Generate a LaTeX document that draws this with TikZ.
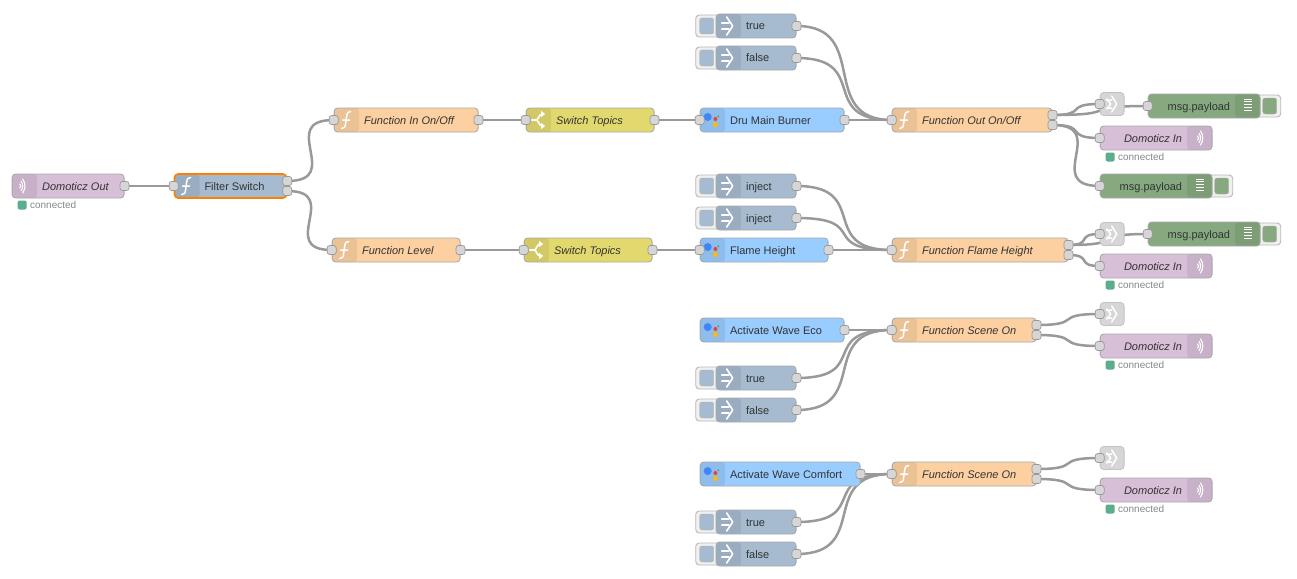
\documentclass[tikz,border=0pt]{standalone}
\usepackage{fontspec}
\setmainfont{Liberation Sans}
\usetikzlibrary{backgrounds,calc}
\definecolor{inject blue}{HTML}{A6BBCF}
\definecolor{func orange}{HTML}{FDD0A2}
\definecolor{switch yellow}{HTML}{E2D96E}
\definecolor{domo purple}{HTML}{D8BFD8}
\definecolor{debug green}{HTML}{87A980}
\definecolor{assist blue}{HTML}{99CCFF}
\definecolor{link gray}{HTML}{D6D6D6}
\definecolor{wire gray}{HTML}{999999}
\definecolor{label dark}{HTML}{333333}
\definecolor{status green}{HTML}{5AAE8C}
\definecolor{assist one}{HTML}{4285F4}
\definecolor{assist two}{HTML}{EA4335}
\definecolor{assist three}{HTML}{FBBC05}
\definecolor{assist four}{HTML}{34A853}
\tikzset{flow/.style={draw=wire gray!85, line width=0.8, rounded corners=3.5, anchor=west, minimum height=24,
		inner sep=0, text height=9.5, text depth=1.5, text=label dark, font=\fontsize{11}{13}\selectfont},
	stripe left/.style={execute at begin node={\def\sideL{\kern30pt}\def\sideR{\hss}},
		path picture={\fill[black, opacity=0.07] (path picture bounding box.south west) rectangle ([xshift=25]path picture bounding box.north west);}},
	stripe right/.style={execute at begin node={\def\sideL{\hss}\def\sideR{\kern30pt}},
		path picture={\fill[black, opacity=0.07] (path picture bounding box.south east) rectangle ([xshift=-25]path picture bounding box.north east);}},
	port/.style={draw=wire gray, fill=link gray, line width=0.7, rounded corners=2.5, minimum size=9, inner sep=0},
	wire/.style={draw=wire gray, line width=2.5},
	button/.style={draw=wire gray!70, fill=black!6, line width=0.9, rounded corners=3.5, minimum width=26, minimum height=22, inner sep=0},
	button face/.style={draw=wire gray!80, rounded corners=2.5, minimum width=14, minimum height=16, inner sep=0},
	icon/.style={draw=white, line width=1.5, line join=round, line cap=round},
	status dot/.style={fill=status green, rounded corners=2, minimum size=9, inner sep=0},
	status text/.style={anchor=west, inner sep=0, text=black!47, font=\fontsize{10}{12}\selectfont}}
% #1 style, #2 name, #3 x, #4 y, #5 width, #6 text
\newcommand{\flownode}[6][]{\node[flow, minimum width=#5, #1] (#2) at (#3,#4) {\hbox to #5pt{\sideL#6\sideR}};}
\newcommand{\inport}[1]{\node[port] (#1-i) at (#1.west) {};}
\newcommand{\outport}[1]{\node[port] (#1-o) at (#1.east) {};}
\newcommand{\outports}[1]{\node[port] (#1-a) at ([yshift=5]#1.east) {};
	\node[port] (#1-b) at ([yshift=-5]#1.east) {};}
\newcommand{\iconf}[1]{\draw[icon, shift={(#1.west)}] (8,8.5) .. controls (11,8.5) and (11.5,7) .. (12,3) -- (13,-4) .. controls (13.5,-7.5) and (14.5,-8.5) .. (17,-8.5) (9,0) -- (16,0);}
\newcommand{\iconinject}[1]{\draw[icon, line width=1.7, shift={(#1.west)}] (6,-3) -- (13,-3) (6,3) -- (13,3) (11,-9) -- (17,0) -- (11,9);}
\newcommand{\iconswitch}[1]{\draw[icon, line width=1.6, shift={(#1.west)}] (6,0) -- (11,0) .. controls (13,-1) and (13,-6) .. (17,-6) (11,0) .. controls (13,1) and (13,6) .. (17,6);
	\fill[white, shift={(#1.west)}] (19.5,-6) -- (15.5,-9) -- (15.5,-3) -- cycle (19.5,6) -- (15.5,9) -- (15.5,3) -- cycle;}
\newcommand{\wavelines}{(0,-2) .. controls (1.5,-1) and (1.5,1) .. (0,2)
	(1.5,-4.5) .. controls (3.5,-2) and (3.5,2) .. (1.5,4.5)
	(3,-7) .. controls (6,-3) and (6,3) .. (3,7)}
\newcommand{\iconwave}[2]{\draw[icon, line width=1.1, shift={(#1)}, xshift=#2] \wavelines;}
\newcommand{\iconassist}[1]{\begin{scope}[shift={(#1.west)}]
		\fill[assist one] (8,-3) circle (4);
		\fill[assist two] (15.7,-1) circle (2);
		\fill[assist three] (15.7,4.7) circle (2.5);
		\fill[assist four] (18.7,-3.7) circle (1);
	\end{scope}}
\newcommand{\icondebug}[1]{\foreach \row in {-7,-4.2,...,7}
	\draw[draw=white, line width=0.9, shift={(#1.east)}] (-17,\row) -- (-9,\row);}
\newcommand{\iconlink}[1]{\draw[icon, shift={(#1.west)}] (7,-5) -- (11,0) -- (7,5) (7,-4) -- (12,-4) (7,4) -- (12,4) (12,-8) -- (17,0) -- (12,8);}
\newcommand{\status}[2]{\node[status dot] (#1-dot) at ($(#1.west)+(#2,19)$) {};
	\node[status text] (#1-txt) at ($(#1-dot.east)+(3,0)$) {connected};}
% #1 name, #2 x, #3 y, #4 text
\newcommand{\domoin}[4]{\flownode[fill=domo purple, stripe right]{#1}{#2}{#3}{112}{\textit{#4}}
	\iconwave{#1.east}{-15}\inport{#1}\status{#1}{10.5}}
\newcommand{\funcnode}[5]{\flownode[fill=func orange, stripe left]{#1}{#2}{#3}{#4}{\textit{#5}}
	\iconf{#1}\inport{#1}}
\newcommand{\injectnode}[4]{\node[button] (#1-btn) at (#2-7,#3) {};
	\node[button face, fill=inject blue] (#1-face) at (#2-9,#3) {};
	\flownode[fill=inject blue, stripe left]{#1}{#2}{#3}{80}{#4}
	\iconinject{#1}\outport{#1}}
\newcommand{\debugnode}[3]{\node[button] (#1-btn) at (#2+120,#3) {};
	\node[button face, fill=debug green] (#1-face) at (#2+122,#3) {};
	\flownode[fill=debug green, stripe right]{#1}{#2}{#3}{112}{msg.payload}
	\icondebug{#1}\inport{#1}}
\newcommand{\linknode}[3]{\node[flow, draw=wire gray!60, fill=link gray, minimum width=24, minimum height=23] (#1) at (#2,#3) {};
	\iconlink{#1}\inport{#1}}
\newcommand{\assistnode}[5]{\flownode[fill=assist blue, stripe left]{#1}{#2}{#3}{#4}{#5}
	\iconassist{#1}\outport{#1}}

\begin{document}
\begin{tikzpicture}[x=1pt, y=-1pt]
	\useasboundingbox (0.3,0) rectangle +(1297,578);
	\flownode[fill=domo purple, stripe left]{domoout}{12}{186}{112}{\textit{Domoticz Out}}
	\iconwave{domoout.west}{8}\outport{domoout}\status{domoout}{10.5}
	\flownode[fill=inject blue, stripe left, draw=orange, line width=1.6]{filter}{174}{186}{112}{Filter Switch}
	\iconf{filter}\inport{filter}\outports{filter}

	\funcnode{fonoff}{334}{120}{144}{Function In On/Off}\outport{fonoff}
	\funcnode{flevel}{332}{250}{128}{Function Level}\outport{flevel}
	\flownode[fill=switch yellow, stripe left]{swtop}{526}{120}{128}{\textit{Switch Topics}}
	\iconswitch{swtop}\inport{swtop}\outport{swtop}
	\flownode[fill=switch yellow, stripe left]{swlow}{524}{250}{128}{\textit{Switch Topics}}
	\iconswitch{swlow}\inport{swlow}\outport{swlow}

	\assistnode{burner}{700}{120}{144}{Dru Main Burner}\inport{burner}
	\assistnode{flame}{700}{250}{128}{Flame Height}\inport{flame}
	\assistnode{eco}{700}{330}{144}{Activate Wave Eco}
	\assistnode{comfort}{700}{474}{160}{Activate Wave Comfort}

	\injectnode{truea}{716}{26}{true}
	\injectnode{falsea}{716}{58}{false}
	\injectnode{injecta}{716}{186}{inject}
	\injectnode{injectb}{716}{218}{inject}
	\injectnode{trueb}{716}{378}{true}
	\injectnode{falseb}{716}{410}{false}
	\injectnode{truec}{716}{522}{true}
	\injectnode{falsec}{716}{554}{false}

	\funcnode{fout}{892}{120}{160}{Function Out On/Off}\outports{fout}
	\funcnode{fflame}{892}{250}{176}{Function Flame Height}\outports{fflame}
	\funcnode{scenea}{892}{330}{144}{Function Scene On}\outports{scenea}
	\funcnode{sceneb}{892}{474}{144}{Function Scene On}\outports{sceneb}

	\linknode{linka}{1100}{104}
	\linknode{linkb}{1100}{234}
	\linknode{linkc}{1100}{314}
	\linknode{linkd}{1100}{458}
	\debugnode{dbga}{1148}{106}
	\debugnode{dbgb}{1100}{186}
	\debugnode{dbgc}{1148}{234}
	\domoin{domoa}{1100}{138}{Domoticz In}
	\domoin{domob}{1100}{266}{Domoticz In}
	\domoin{domoc}{1100}{346}{Domoticz In}
	\domoin{domod}{1100}{490}{Domoticz In}

	\begin{scope}[on background layer]
		\foreach \from/\to in {domoout-o/filter-i, filter-a/fonoff-i, filter-b/flevel-i,
			fonoff-o/swtop-i, flevel-o/swlow-i, swtop-o/burner-i, swlow-o/flame-i,
			burner-o/fout-i, truea-o/fout-i, falsea-o/fout-i,
			flame-o/fflame-i, injecta-o/fflame-i, injectb-o/fflame-i,
			eco-o/scenea-i, trueb-o/scenea-i, falseb-o/scenea-i,
			comfort-o/sceneb-i, truec-o/sceneb-i, falsec-o/sceneb-i,
			fout-a/linka-i, fout-a/dbga-i, fout-b/domoa-i, fout-b/dbgb-i,
			fflame-a/linkb-i, fflame-a/dbgc-i, fflame-b/domob-i,
			scenea-a/linkc-i, scenea-b/domoc-i, sceneb-a/linkd-i, sceneb-b/domod-i}
		\draw[wire] let \p1=(\from), \p2=(\to),
			\n1={min(75pt,0.75*veclen(\x2-\x1,\y2-\y1))} in
			(\p1) .. controls +(\n1,0) and +(-\n1,0) .. (\p2);
	\end{scope}
\end{tikzpicture}
\end{document}
